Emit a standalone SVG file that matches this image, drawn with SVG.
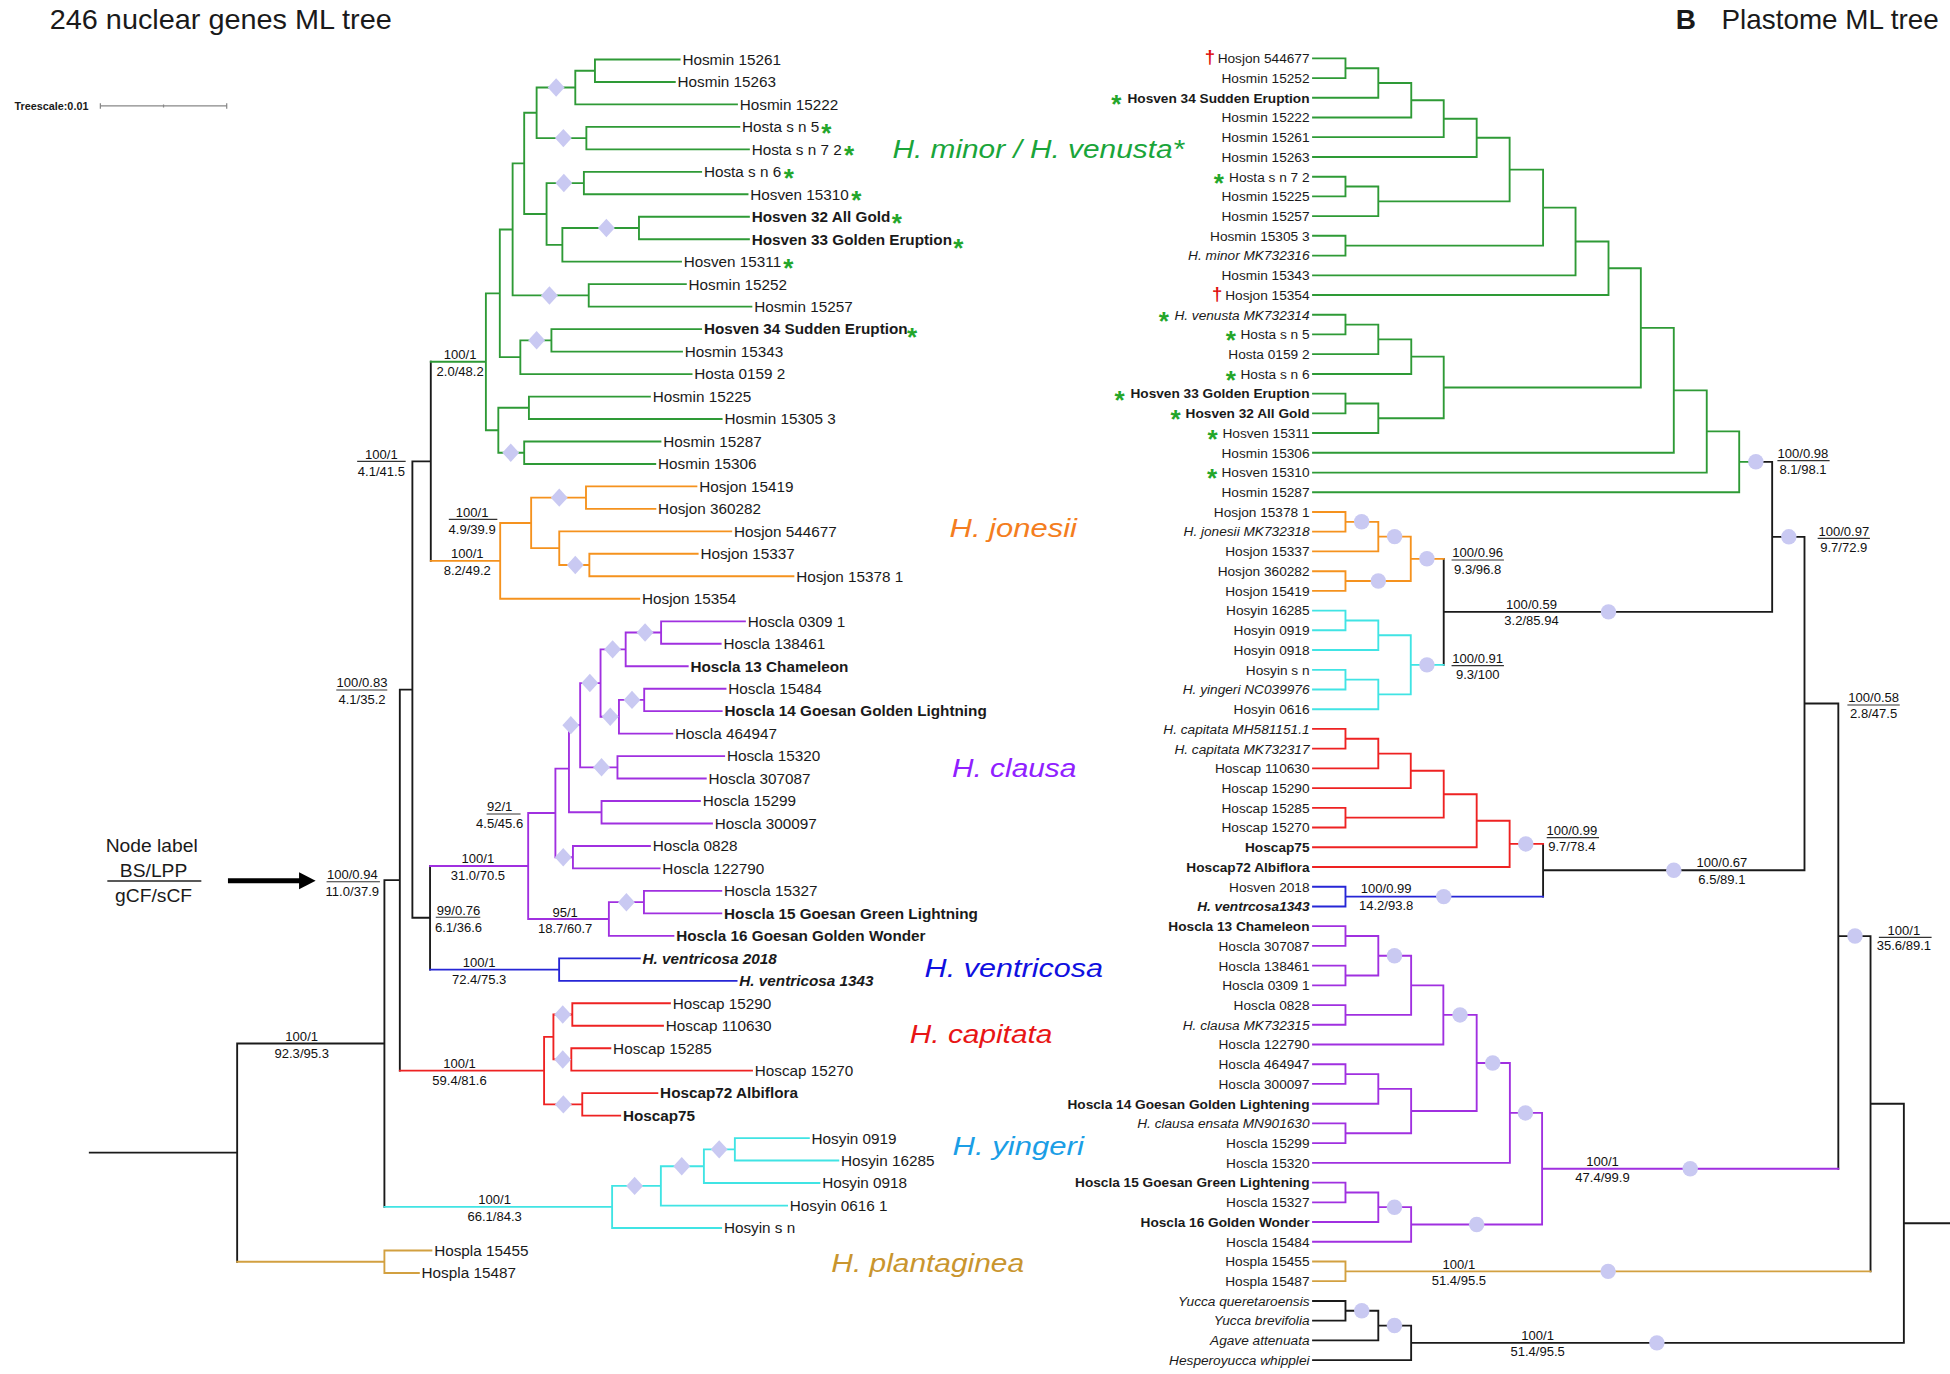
<svg xmlns="http://www.w3.org/2000/svg" xmlns:xlink="http://www.w3.org/1999/xlink" width="1950" height="1374" viewBox="0 0 1950 1374">
<style>
text{font-family:"Liberation Sans",Arial,Helvetica,sans-serif;fill:#1a1a1a}
.lf{font-size:12.3px}
.rf{font-size:11px;text-anchor:end}
.b{font-weight:bold}
.i{font-style:italic}
.nl{font-size:10.5px;text-anchor:middle;fill:#111}
.st{fill:#23a62a;font-weight:bold;font-size:21px;text-anchor:middle}
.dg{fill:#e01010;font-weight:bold;font-size:15px;text-anchor:middle}
.cl{font-size:21px;font-style:italic}
.c{fill:none;stroke-width:1.5;stroke-linecap:square}
.k{stroke:#1a1a1a}.gr{stroke:#2e9a36}.or{stroke:#f5921e}.pu{stroke:#a030e0}.bl{stroke:#2626d6}.rd{stroke:#ee2222}.cy{stroke:#40e4e4}.tn{stroke:#d2a040}
.bar{stroke:#333;stroke-width:0.9}
.dm{fill:#c9c9f2}
</style>
<defs>
<path id="dia" d="M0,-7.4L6.8,0L0,7.4L-6.8,0Z"/>
</defs>
<rect width="1950" height="1374" fill="#fff"/>
<g transform="scale(1.243622)">
<g id="titles">
<text x="40" y="23.6" font-size="22.5" textLength="275" lengthAdjust="spacingAndGlyphs">246 nuclear genes ML tree</text>
<text x="1347.5" y="23.6" font-size="22.5" font-weight="bold">B</text>
<text x="1384.3" y="23.6" font-size="22.5" textLength="174.6" lengthAdjust="spacingAndGlyphs">Plastome ML tree</text>
</g>
<g id="treescale">
<text x="11.7" y="88.3" font-size="8.7" font-weight="bold">Treescale:0.01</text>
<path d="M80.7,85.2H182.3M80.7,83V87.4M131.5,84V86.4M182.3,83V87.4" fill="none" stroke="#888" stroke-width="1"/>
</g>
<g id="legend">
<text x="122" y="685" font-size="15.5" text-anchor="middle">Node label</text>
<text x="123.5" y="705" font-size="15.5" text-anchor="middle">BS/LPP</text>
<path d="M86.3,708.4H161.9" stroke="#222" stroke-width="1.2"/>
<text x="123.5" y="725" font-size="15.5" text-anchor="middle">gCF/sCF</text>
<path d="M183.3,708.2H243" stroke="#000" stroke-width="4"/>
<polygon points="240.5,701.4 253.8,708.2 240.5,715" fill="#000"/>
</g>
<g id="connectors">
<path class="c k" d="M72.2,926.8H190.7M190.7,839.1V1014.55M190.7,839.1H309.1M309.1,707.7V970.5M309.1,707.7H321.5M321.5,554.5V860.9M321.5,554.5H331.6M331.6,370.95V738M331.6,370.95H346.4M346.4,290.9V451M331.6,738H345.8M345.8,696.35V779.65"/>
<path class="c tn" d="M190.7,1014.55H309.1M309.1,1005.5V1023.6M309.1,1005.5H346.9M309.1,1023.6H336.8"/>
<path class="c gr" d="M346.4,290.9H390.7M390.7,235.85V345.98M390.7,235.85H401.9M390.7,345.98H400.7M401.9,184.5V287.2M401.9,184.5H412.2M401.9,287.2H418.4M412.2,131.4V237.55M412.2,131.4H421.5M412.2,237.55H473.4M421.5,90.7V172.05M421.5,90.7H431.5M421.5,172.05H439.5M431.5,70.4V111.05M431.5,70.4H462.6M431.5,111.05H471.5M462.6,56.85V83.9M462.6,56.85H478.4M462.6,83.9H592.6M478.4,47.8V65.9M478.4,47.8H546.5M478.4,65.9H542.6M471.5,102V120.1M471.5,102H594.5M471.5,120.1H602.2M439.5,147.2V196.9M439.5,147.2H469.5M439.5,196.9H452.2M469.5,138.2V156.2M469.5,138.2H563.8M469.5,156.2H601.1M452.2,183.35V210.4M452.2,183.35H513.8M452.2,210.4H547.6M513.8,174.3V192.4M513.8,174.3H602.2M513.8,192.4H602.2M473.4,228.5V246.6M473.4,228.5H551.5M473.4,246.6H604.2M418.4,273.65V300.8M418.4,273.65H443.4M418.4,300.8H556.1M443.4,264.6V282.7M443.4,264.6H563.8M443.4,282.7H548.4M400.7,327.9V364.05M400.7,327.9H425.3M400.7,364.05H421.5M425.3,318.9V336.9M425.3,318.9H522.6M425.3,336.9H580.3M421.5,355V373.1M421.5,355H531.1M421.5,373.1H526.9"/>
<path class="c or" d="M346.4,451H402.2M402.2,420.5V481.5M402.2,420.5H427.1M402.2,481.5H514M427.1,400.15V440.8M427.1,400.15H471.2M427.1,440.8H449.7M471.2,391.1V409.2M471.2,391.1H560M471.2,409.2H527M449.7,427.3V454.35M449.7,427.3H588M449.7,454.35H473.9M473.9,445.3V463.4M473.9,445.3H561M473.9,463.4H638"/>
<path class="c pu" d="M345.8,696.35H424.7M424.7,653.7V739M424.7,653.7H446.6M424.7,739H489.6M446.6,618.1V689.3M446.6,618.1H457.5M446.6,689.3H460.7M457.5,583.1V653.15M457.5,583.1H466.5M457.5,653.15H483.7M466.5,549.25V617M466.5,549.25H482.9M466.5,617H496.5M482.9,522.15V576.35M482.9,522.15H503.1M482.9,576.35H497.7M503.1,508.6V535.7M503.1,508.6H531.6M503.1,535.7H553M531.6,499.6V517.6M531.6,499.6H599M531.6,517.6H579.5M497.7,562.8V589.9M497.7,562.8H518M497.7,589.9H540.6M518,553.8V571.8M518,553.8H583.4M518,571.8H580.3M496.5,608V626M496.5,608H582.3M496.5,626H567.5M483.7,644.1V662.2M483.7,644.1H562.8M483.7,662.2H572.5M460.7,680.3V698.3M460.7,680.3H522.6M460.7,698.3H530.4M489.6,725.45V752.5M489.6,725.45H517.8M489.6,752.5H541.5M517.8,716.4V734.5M517.8,716.4H580M517.8,734.5H580"/>
<path class="c bl" d="M345.8,779.65H449.6M449.6,770.6V788.7M449.6,770.6H514.5M449.6,788.7H592.3"/>
<path class="c rd" d="M321.5,860.9H437.5M437.5,833.8V888.05M437.5,833.8H445M437.5,888.05H468.2M445,815.75V851.9M445,815.75H460.2M445,851.9H459.4M460.2,806.7V824.8M460.2,806.7H538.7M460.2,824.8H533.1M459.4,842.9V860.9M459.4,842.9H490.8M459.4,860.9H604.7M468.2,879V897.1M468.2,879H528.6M468.2,897.1H498.7"/>
<path class="c cy" d="M309.1,970.5H492.2M492.2,953.6V987.4M492.2,953.6H531.4M492.2,987.4H579.9M531.4,937.75V969.4M531.4,937.75H566M531.4,969.4H632.9M566,924.2V951.3M566,924.2H590.9M566,951.3H658.9M590.9,915.2V933.2M590.9,915.2H650.4M590.9,933.2H674.1"/>
<path class="c gr" d="M1055.8,46.9H1081.9M1055.8,62.8H1081.9M1081.9,46.9V62.8M1081.9,54.85H1108.3M1055.8,78.6H1108.3M1108.3,54.85V78.6M1108.3,66.7H1134.8M1055.8,94.5H1134.8M1134.8,66.7V94.5M1134.8,80.6H1160.9M1055.8,110.3H1160.9M1160.9,80.6V110.3M1160.9,95.45H1187.4M1055.8,126.2H1187.4M1187.4,95.45V126.2M1055.8,142.1H1081.9M1055.8,157.9H1081.9M1081.9,142.1V157.9M1081.9,150H1108.3M1055.8,173.8H1108.3M1108.3,150V173.8M1187.4,110.8H1213.9M1108.3,161.9H1213.9M1213.9,110.8V161.9M1055.8,189.6H1081.9M1055.8,205.5H1081.9M1081.9,189.6V205.5M1213.9,136.35H1240.8M1081.9,197.55H1240.8M1240.8,136.35V197.55M1240.8,166.95H1266.9M1055.8,221.4H1266.9M1266.9,166.95V221.4M1266.9,194.2H1293.4M1055.8,237.2H1293.4M1293.4,194.2V237.2M1055.8,253.1H1081.9M1055.8,268.9H1081.9M1081.9,253.1V268.9M1081.9,261H1108.3M1055.8,284.8H1108.3M1108.3,261V284.8M1108.3,272.9H1134.8M1055.8,300.7H1134.8M1134.8,272.9V300.7M1055.8,316.5H1081.9M1055.8,332.4H1081.9M1081.9,316.5V332.4M1081.9,324.45H1108.3M1055.8,348.2H1108.3M1108.3,324.45V348.2M1134.8,286.8H1160.9M1108.3,336.3H1160.9M1160.9,286.8V336.3M1293.4,215.7H1319.4M1160.9,311.55H1319.4M1319.4,215.7V311.55M1319.4,263.6H1345.9M1055.8,364.1H1345.9M1345.9,263.6V364.1M1345.9,313.85H1372.4M1055.8,380H1372.4M1372.4,313.85V380M1372.4,346.9H1398.5M1055.8,395.8H1398.5M1398.5,346.9V395.8M1398.5,371.35H1411.9"/>
<path class="c k" d="M1411.9,371.35H1425M1425,371.35V491.98M1425,431.67H1451M1160.9,491.98H1425M1160.9,449.35V534.6M1451,431.67V699.8M1451,565.7H1478.2M1240.8,678.6V720.95M1240.8,699.8H1451M1478.2,565.7V939.75M1478.2,752.7H1504.1M1504.1,752.7V1022.3M1504.1,887.5H1530.9M1530.9,887.5V1079.8M1530.9,983.65H1568M1055.8,1046.1H1081.9M1055.8,1061.9H1081.9M1081.9,1046.1V1061.9M1081.9,1054H1108.3M1055.8,1077.8H1108.3M1108.3,1054V1077.8M1108.3,1065.9H1134.7M1055.8,1093.7H1134.7M1134.7,1065.9V1093.7M1134.7,1079.8H1530.9"/>
<path class="c or" d="M1055.8,411.7H1081.9M1055.8,427.5H1081.9M1081.9,411.7V427.5M1081.9,419.6H1108.3M1055.8,443.4H1108.3M1108.3,419.6V443.4M1055.8,459.3H1081.9M1055.8,475.1H1081.9M1081.9,459.3V475.1M1108.3,431.5H1134.4M1081.9,467.2H1134.4M1134.4,431.5V467.2M1134.4,449.35H1160.9"/>
<path class="c cy" d="M1055.8,491H1081.9M1055.8,506.8H1081.9M1081.9,491V506.8M1081.9,498.9H1108.3M1055.8,522.7H1108.3M1108.3,498.9V522.7M1055.8,538.6H1081.9M1055.8,554.4H1081.9M1081.9,538.6V554.4M1081.9,546.5H1108.3M1055.8,570.3H1108.3M1108.3,546.5V570.3M1108.3,510.8H1134.4M1108.3,558.4H1134.4M1134.4,510.8V558.4M1134.4,534.6H1160.9"/>
<path class="c rd" d="M1055.8,586.1H1081.9M1055.8,602H1081.9M1081.9,586.1V602M1081.9,594.05H1108.3M1055.8,617.9H1108.3M1108.3,594.05V617.9M1108.3,605.95H1134.4M1055.8,633.7H1134.4M1134.4,605.95V633.7M1055.8,649.6H1081.9M1055.8,665.4H1081.9M1081.9,649.6V665.4M1134.4,619.8H1160.9M1081.9,657.5H1160.9M1160.9,619.8V657.5M1160.9,638.65H1187.4M1055.8,681.3H1187.4M1187.4,638.65V681.3M1187.4,659.98H1213.9M1055.8,697.2H1213.9M1213.9,659.98V697.2M1213.9,678.6H1240.8"/>
<path class="c bl" d="M1055.8,713H1081.9M1055.8,728.9H1081.9M1081.9,713V728.9M1081.9,720.95H1240.8"/>
<path class="c pu" d="M1055.8,744.7H1081.9M1055.8,760.6H1081.9M1081.9,744.7V760.6M1055.8,776.5H1081.9M1055.8,792.3H1081.9M1081.9,776.5V792.3M1081.9,752.65H1108.3M1081.9,784.4H1108.3M1108.3,752.65V784.4M1055.8,808.2H1081.9M1055.8,824H1081.9M1081.9,808.2V824M1108.3,768.5H1134.7M1081.9,816.1H1134.7M1134.7,768.5V816.1M1134.7,792.3H1160.6M1055.8,839.9H1160.6M1160.6,792.3V839.9M1055.8,855.8H1081.9M1055.8,871.6H1081.9M1081.9,855.8V871.6M1081.9,863.7H1108.3M1055.8,887.5H1108.3M1108.3,863.7V887.5M1055.8,903.3H1081.9M1055.8,919.2H1081.9M1081.9,903.3V919.2M1108.3,875.6H1134.7M1081.9,911.25H1134.7M1134.7,875.6V911.25M1160.6,816.1H1187.4M1134.7,893.4H1187.4M1187.4,816.1V893.4M1187.4,854.75H1214.1M1055.8,935.1H1214.1M1214.1,854.75V935.1M1055.8,950.9H1081.9M1055.8,966.8H1081.9M1081.9,950.9V966.8M1081.9,958.85H1108.3M1055.8,982.6H1108.3M1108.3,958.85V982.6M1108.3,970.7H1134.7M1055.8,998.5H1134.7M1134.7,970.7V998.5M1214.1,894.9H1240M1134.7,984.6H1240M1240,894.9V984.6M1240,939.75H1478.2"/>
<path class="c tn" d="M1055.8,1014.4H1081.9M1055.8,1030.2H1081.9M1081.9,1014.4V1030.2M1081.9,1022.3H1504.1"/>
</g>
<g id="support-markers" class="dm">
<use href="#dia" x="447.2" y="70.4"/><use href="#dia" x="453" y="111.05"/><use href="#dia" x="453.4" y="147.2"/><use href="#dia" x="487.6" y="183.35"/><use href="#dia" x="441.8" y="237.55"/><use href="#dia" x="431.5" y="273.65"/><use href="#dia" x="410.7" y="364.05"/><use href="#dia" x="449.7" y="400.15"/><use href="#dia" x="462.6" y="454.35"/><use href="#dia" x="518.7" y="508.6"/><use href="#dia" x="492.6" y="522.15"/><use href="#dia" x="508.2" y="562.8"/><use href="#dia" x="490.7" y="576.35"/><use href="#dia" x="474.3" y="549.25"/><use href="#dia" x="483.7" y="617"/><use href="#dia" x="459" y="583.1"/><use href="#dia" x="452.9" y="689.3"/><use href="#dia" x="503.7" y="725.45"/><use href="#dia" x="452.5" y="815.75"/><use href="#dia" x="452.5" y="851.9"/><use href="#dia" x="453" y="888.05"/><use href="#dia" x="578.3" y="924.2"/><use href="#dia" x="548.2" y="937.75"/><use href="#dia" x="510.3" y="953.6"/>
<circle cx="1411.9" cy="371.35" r="6.2"/><circle cx="1438.4" cy="431.67" r="6.2"/><circle cx="1094.9" cy="419.6" r="6.2"/><circle cx="1121.4" cy="431.5" r="6.2"/><circle cx="1108.3" cy="467.2" r="6.2"/><circle cx="1147.4" cy="449.35" r="6.2"/><circle cx="1147.4" cy="534.6" r="6.2"/><circle cx="1293.4" cy="491.98" r="6.2"/><circle cx="1226.9" cy="678.6" r="6.2"/><circle cx="1160.9" cy="720.95" r="6.2"/><circle cx="1345.9" cy="699.8" r="6.2"/><circle cx="1121.3" cy="768.5" r="6.2"/><circle cx="1174" cy="816.1" r="6.2"/><circle cx="1200.3" cy="854.75" r="6.2"/><circle cx="1226.6" cy="894.9" r="6.2"/><circle cx="1121.3" cy="970.7" r="6.2"/><circle cx="1187.4" cy="984.6" r="6.2"/><circle cx="1359.1" cy="939.75" r="6.2"/><circle cx="1491.6" cy="752.7" r="6.2"/><circle cx="1293.1" cy="1022.3" r="6.2"/><circle cx="1095" cy="1054" r="6.2"/><circle cx="1121.3" cy="1065.9" r="6.2"/><circle cx="1332.3" cy="1079.8" r="6.2"/>
</g>
<g id="node-labels">
<path class="bar" d="M287.2,371H326.2M360.9,417.6H399.9M270.4,554.8H311.4M391.3,654.5H418.6M262.6,709H305.5M350.4,737.6H386.2M1429.2,370.4H1471.2M1461.6,432.9H1503.6M1167.2,450.3H1209.3M1167.2,535.2H1209.3M1485.5,566.9H1527.6M1243.7,673.5H1285.8M1510.8,753.7H1553.2"/>
<g id="nl-L1"><text class="nl" x="370" y="288.9">100/1</text><text class="nl" x="370" y="302.4">2.0/48.2</text></g>
<g id="nl-L2"><text class="nl" x="306.7" y="369">100/1</text><text class="nl" x="306.7" y="382.5">4.1/41.5</text></g>
<g id="nl-L3"><text class="nl" x="379.6" y="415.6">100/1</text><text class="nl" x="379.6" y="429.1">4.9/39.9</text></g>
<g id="nl-L4"><text class="nl" x="375.7" y="449">100/1</text><text class="nl" x="375.7" y="462.5">8.2/49.2</text></g>
<g id="nl-L5"><text class="nl" x="291.1" y="552.8">100/0.83</text><text class="nl" x="291.1" y="566.3">4.1/35.2</text></g>
<g id="nl-L6"><text class="nl" x="401.8" y="652.5">92/1</text><text class="nl" x="401.8" y="666">4.5/45.6</text></g>
<g id="nl-L7"><text class="nl" x="384.3" y="694.3">100/1</text><text class="nl" x="384.3" y="707.8">31.0/70.5</text></g>
<g id="nl-L8"><text class="nl" x="283.3" y="707">100/0.94</text><text class="nl" x="283.3" y="720.5">11.0/37.9</text></g>
<g id="nl-L9"><text class="nl" x="368.7" y="735.6">99/0.76</text><text class="nl" x="368.7" y="749.1">6.1/36.6</text></g>
<g id="nl-L10"><text class="nl" x="454.4" y="737">95/1</text><text class="nl" x="454.4" y="750.5">18.7/60.7</text></g>
<g id="nl-L11"><text class="nl" x="385.3" y="777.6">100/1</text><text class="nl" x="385.3" y="791.1">72.4/75.3</text></g>
<g id="nl-L12"><text class="nl" x="369.5" y="858.9">100/1</text><text class="nl" x="369.5" y="872.4">59.4/81.6</text></g>
<g id="nl-L13"><text class="nl" x="397.7" y="968.5">100/1</text><text class="nl" x="397.7" y="982">66.1/84.3</text></g>
<g id="nl-L14"><text class="nl" x="242.6" y="837.1">100/1</text><text class="nl" x="242.6" y="850.6">92.3/95.3</text></g>
<g id="nl-R1"><text class="nl" x="1449.8" y="368.4">100/0.98</text><text class="nl" x="1449.8" y="381">8.1/98.1</text></g>
<g id="nl-R2"><text class="nl" x="1482.6" y="430.6">100/0.97</text><text class="nl" x="1482.6" y="443.9">9.7/72.9</text></g>
<g id="nl-R3"><text class="nl" x="1188.2" y="448.2">100/0.96</text><text class="nl" x="1188.2" y="461.6">9.3/96.8</text></g>
<g id="nl-R4"><text class="nl" x="1231.5" y="489.5">100/0.59</text><text class="nl" x="1231.5" y="502.3">3.2/85.94</text></g>
<g id="nl-R5"><text class="nl" x="1188.2" y="533.1">100/0.91</text><text class="nl" x="1188.2" y="545.8">9.3/100</text></g>
<g id="nl-R6"><text class="nl" x="1506.6" y="564.6">100/0.58</text><text class="nl" x="1506.6" y="577.3">2.8/47.5</text></g>
<g id="nl-R7"><text class="nl" x="1263.9" y="671.2">100/0.99</text><text class="nl" x="1263.9" y="684.6">9.7/78.4</text></g>
<g id="nl-R8"><text class="nl" x="1384.6" y="697.4">100/0.67</text><text class="nl" x="1384.6" y="710.6">6.5/89.1</text></g>
<g id="nl-R9"><text class="nl" x="1114.6" y="718.1">100/0.99</text><text class="nl" x="1114.6" y="731.5">14.2/93.8</text></g>
<g id="nl-R10"><text class="nl" x="1530.9" y="751.6">100/1</text><text class="nl" x="1530.9" y="764.2">35.6/89.1</text></g>
<g id="nl-R11"><text class="nl" x="1288.6" y="937.3">100/1</text><text class="nl" x="1288.6" y="950.5">47.4/99.9</text></g>
<g id="nl-R12"><text class="nl" x="1173.1" y="1020.2">100/1</text><text class="nl" x="1173.1" y="1033">51.4/95.5</text></g>
<g id="nl-R13"><text class="nl" x="1236.4" y="1077.3">100/1</text><text class="nl" x="1236.4" y="1090.6">51.4/95.5</text></g>
</g>
<g id="clade-labels">
<text class="cl" x="717.6" y="127.3" style="fill:#1aa53a" textLength="234.6" lengthAdjust="spacingAndGlyphs">H. minor / H. venusta*</text>
<text class="cl" x="763.5" y="431.5" style="fill:#f47d20" textLength="102.5" lengthAdjust="spacingAndGlyphs">H. jonesii</text>
<text class="cl" x="765.5" y="625" style="fill:#9020ff" textLength="100" lengthAdjust="spacingAndGlyphs">H. clausa</text>
<text class="cl" x="743.5" y="785.4" style="fill:#1010e0" textLength="143.5" lengthAdjust="spacingAndGlyphs">H. ventricosa</text>
<text class="cl" x="731.6" y="838.9" style="fill:#e81515" textLength="114.6" lengthAdjust="spacingAndGlyphs">H. capitata</text>
<text class="cl" x="766" y="928.7" style="fill:#1b9ee6" textLength="105.5" lengthAdjust="spacingAndGlyphs">H. yingeri</text>
<text class="cl" x="668.5" y="1022.5" style="fill:#c9952e" textLength="155" lengthAdjust="spacingAndGlyphs">H. plantaginea</text>
</g>
<g id="left-leaves">
<g id="L00"><text class="lf" x="548.7" y="52.1">Hosmin 15261</text></g>
<g id="L01"><text class="lf" x="544.8" y="70.2">Hosmin 15263</text></g>
<g id="L02"><text class="lf" x="594.8" y="88.2">Hosmin 15222</text></g>
<g id="L03"><text class="lf" x="596.7" y="106.3">Hosta s n 5</text><text class="st" x="664.5" y="114">*</text></g>
<g id="L04"><text class="lf" x="604.4" y="124.4">Hosta s n 7 2</text><text class="st" x="682.8" y="132.1">*</text></g>
<g id="L05"><text class="lf" x="566" y="142.5">Hosta s n 6</text><text class="st" x="634.4" y="150.2">*</text></g>
<g id="L06"><text class="lf" x="603.3" y="160.5">Hosven 15310</text><text class="st" x="688.5" y="168.2">*</text></g>
<g id="L07"><text class="lf b" x="604.4" y="178.6">Hosven 32 All Gold</text><text class="st" x="721.2" y="186.3">*</text></g>
<g id="L08"><text class="lf b" x="604.4" y="196.7">Hosven 33 Golden Eruption</text><text class="st" x="770.6" y="206.9">*</text></g>
<g id="L09"><text class="lf" x="549.8" y="214.7">Hosven 15311</text><text class="st" x="634" y="222.4">*</text></g>
<g id="L10"><text class="lf" x="553.7" y="232.8">Hosmin 15252</text></g>
<g id="L11"><text class="lf" x="606.4" y="250.9">Hosmin 15257</text></g>
<g id="L12"><text class="lf b" x="566" y="268.9">Hosven 34 Sudden Eruption</text><text class="st" x="733.4" y="278.6">*</text></g>
<g id="L13"><text class="lf" x="550.6" y="287">Hosmin 15343</text></g>
<g id="L14"><text class="lf" x="558.3" y="305.1">Hosta 0159 2</text></g>
<g id="L15"><text class="lf" x="524.8" y="323.2">Hosmin 15225</text></g>
<g id="L16"><text class="lf" x="582.5" y="341.2">Hosmin 15305 3</text></g>
<g id="L17"><text class="lf" x="533.3" y="359.3">Hosmin 15287</text></g>
<g id="L18"><text class="lf" x="529.1" y="377.4">Hosmin 15306</text></g>
<g id="L19"><text class="lf" x="562.2" y="395.4">Hosjon 15419</text></g>
<g id="L20"><text class="lf" x="529.2" y="413.5">Hosjon 360282</text></g>
<g id="L21"><text class="lf" x="590.2" y="431.6">Hosjon 544677</text></g>
<g id="L22"><text class="lf" x="563.2" y="449.6">Hosjon 15337</text></g>
<g id="L23"><text class="lf" x="640.2" y="467.7">Hosjon 15378 1</text></g>
<g id="L24"><text class="lf" x="516.2" y="485.8">Hosjon 15354</text></g>
<g id="L25"><text class="lf" x="601.2" y="503.9">Hoscla 0309 1</text></g>
<g id="L26"><text class="lf" x="581.7" y="521.9">Hoscla 138461</text></g>
<g id="L27"><text class="lf b" x="555.2" y="540">Hoscla 13 Chameleon</text></g>
<g id="L28"><text class="lf" x="585.6" y="558.1">Hoscla 15484</text></g>
<g id="L29"><text class="lf b" x="582.5" y="576.1">Hoscla 14 Goesan Golden Lightning</text></g>
<g id="L30"><text class="lf" x="542.8" y="594.2">Hoscla 464947</text></g>
<g id="L31"><text class="lf" x="584.5" y="612.3">Hoscla 15320</text></g>
<g id="L32"><text class="lf" x="569.7" y="630.3">Hoscla 307087</text></g>
<g id="L33"><text class="lf" x="565" y="648.4">Hoscla 15299</text></g>
<g id="L34"><text class="lf" x="574.7" y="666.5">Hoscla 300097</text></g>
<g id="L35"><text class="lf" x="524.8" y="684.6">Hoscla 0828</text></g>
<g id="L36"><text class="lf" x="532.6" y="702.6">Hoscla 122790</text></g>
<g id="L37"><text class="lf" x="582.2" y="720.7">Hoscla 15327</text></g>
<g id="L38"><text class="lf b" x="582.2" y="738.8">Hoscla 15 Goesan Green Lightning</text></g>
<g id="L39"><text class="lf b" x="543.7" y="756.8">Hoscla 16 Goesan Golden Wonder</text></g>
<g id="L40"><text class="lf b i" x="516.7" y="774.9">H. ventricosa 2018</text></g>
<g id="L41"><text class="lf b i" x="594.5" y="793">H. ventricosa 1343</text></g>
<g id="L42"><text class="lf" x="540.9" y="811">Hoscap 15290</text></g>
<g id="L43"><text class="lf" x="535.3" y="829.1">Hoscap 110630</text></g>
<g id="L44"><text class="lf" x="493" y="847.2">Hoscap 15285</text></g>
<g id="L45"><text class="lf" x="606.9" y="865.2">Hoscap 15270</text></g>
<g id="L46"><text class="lf b" x="530.8" y="883.3">Hoscap72 Albiflora</text></g>
<g id="L47"><text class="lf b" x="500.9" y="901.4">Hoscap75</text></g>
<g id="L48"><text class="lf" x="652.6" y="919.5">Hosyin 0919</text></g>
<g id="L49"><text class="lf" x="676.3" y="937.5">Hosyin 16285</text></g>
<g id="L50"><text class="lf" x="661.1" y="955.6">Hosyin 0918</text></g>
<g id="L51"><text class="lf" x="635.1" y="973.7">Hosyin 0616 1</text></g>
<g id="L52"><text class="lf" x="582.1" y="991.7">Hosyin s n</text></g>
<g id="L53"><text class="lf" x="349.1" y="1009.8">Hospla 15455</text></g>
<g id="L54"><text class="lf" x="339" y="1027.9">Hospla 15487</text></g>
</g>
<g id="right-leaves">
<g id="R00"><text class="dg" x="972.9" y="50.8">†</text><text class="rf" x="1053" y="50.8">Hosjon 544677</text></g>
<g id="R01"><text class="rf" x="1053" y="66.7">Hosmin 15252</text></g>
<g id="R02"><text class="st" x="897.6" y="90.6">*</text><text class="rf b" x="1053" y="82.5">Hosven 34 Sudden Eruption</text></g>
<g id="R03"><text class="rf" x="1053" y="98.4">Hosmin 15222</text></g>
<g id="R04"><text class="rf" x="1053" y="114.2">Hosmin 15261</text></g>
<g id="R05"><text class="rf" x="1053" y="130.1">Hosmin 15263</text></g>
<g id="R06"><text class="st" x="980.1" y="154.1">*</text><text class="rf" x="1053" y="146">Hosta s n 7 2</text></g>
<g id="R07"><text class="rf" x="1053" y="161.8">Hosmin 15225</text></g>
<g id="R08"><text class="rf" x="1053" y="177.7">Hosmin 15257</text></g>
<g id="R09"><text class="rf" x="1053" y="193.5">Hosmin 15305 3</text></g>
<g id="R10"><text class="rf i" x="1053" y="209.4">H. minor MK732316</text></g>
<g id="R11"><text class="rf" x="1053" y="225.3">Hosmin 15343</text></g>
<g id="R12"><text class="dg" x="978.8" y="241.1">†</text><text class="rf" x="1053" y="241.1">Hosjon 15354</text></g>
<g id="R13"><text class="st" x="935.9" y="265.1">*</text><text class="rf i" x="1053" y="257">H. venusta MK732314</text></g>
<g id="R14"><text class="st" x="989.8" y="280.9">*</text><text class="rf" x="1053" y="272.8">Hosta s n 5</text></g>
<g id="R15"><text class="rf" x="1053" y="288.7">Hosta 0159 2</text></g>
<g id="R16"><text class="st" x="989.8" y="312.7">*</text><text class="rf" x="1053" y="304.6">Hosta s n 6</text></g>
<g id="R17"><text class="st" x="900.3" y="328.5">*</text><text class="rf b" x="1053" y="320.4">Hosven 33 Golden Eruption</text></g>
<g id="R18"><text class="st" x="945.2" y="344.4">*</text><text class="rf b" x="1053" y="336.3">Hosven 32 All Gold</text></g>
<g id="R19"><text class="st" x="975" y="360.2">*</text><text class="rf" x="1053" y="352.1">Hosven 15311</text></g>
<g id="R20"><text class="rf" x="1053" y="368">Hosmin 15306</text></g>
<g id="R21"><text class="st" x="974.6" y="392">*</text><text class="rf" x="1053" y="383.9">Hosven 15310</text></g>
<g id="R22"><text class="rf" x="1053" y="399.7">Hosmin 15287</text></g>
<g id="R23"><text class="rf" x="1053" y="415.6">Hosjon 15378 1</text></g>
<g id="R24"><text class="rf i" x="1053" y="431.4">H. jonesii MK732318</text></g>
<g id="R25"><text class="rf" x="1053" y="447.3">Hosjon 15337</text></g>
<g id="R26"><text class="rf" x="1053" y="463.2">Hosjon 360282</text></g>
<g id="R27"><text class="rf" x="1053" y="479">Hosjon 15419</text></g>
<g id="R28"><text class="rf" x="1053" y="494.9">Hosyin 16285</text></g>
<g id="R29"><text class="rf" x="1053" y="510.7">Hosyin 0919</text></g>
<g id="R30"><text class="rf" x="1053" y="526.6">Hosyin 0918</text></g>
<g id="R31"><text class="rf" x="1053" y="542.5">Hosyin s n</text></g>
<g id="R32"><text class="rf i" x="1053" y="558.3">H. yingeri NC039976</text></g>
<g id="R33"><text class="rf" x="1053" y="574.2">Hosyin 0616</text></g>
<g id="R34"><text class="rf i" x="1053" y="590">H. capitata MH581151.1</text></g>
<g id="R35"><text class="rf i" x="1053" y="605.9">H. capitata MK732317</text></g>
<g id="R36"><text class="rf" x="1053" y="621.8">Hoscap 110630</text></g>
<g id="R37"><text class="rf" x="1053" y="637.6">Hoscap 15290</text></g>
<g id="R38"><text class="rf" x="1053" y="653.5">Hoscap 15285</text></g>
<g id="R39"><text class="rf" x="1053" y="669.3">Hoscap 15270</text></g>
<g id="R40"><text class="rf b" x="1053" y="685.2">Hoscap75</text></g>
<g id="R41"><text class="rf b" x="1053" y="701.1">Hoscap72 Albiflora</text></g>
<g id="R42"><text class="rf" x="1053" y="716.9">Hosven 2018</text></g>
<g id="R43"><text class="rf b i" x="1053" y="732.8">H. ventrcosa1343</text></g>
<g id="R44"><text class="rf b" x="1053" y="748.6">Hoscla 13 Chameleon</text></g>
<g id="R45"><text class="rf" x="1053" y="764.5">Hoscla 307087</text></g>
<g id="R46"><text class="rf" x="1053" y="780.4">Hoscla 138461</text></g>
<g id="R47"><text class="rf" x="1053" y="796.2">Hoscla 0309 1</text></g>
<g id="R48"><text class="rf" x="1053" y="812.1">Hoscla 0828</text></g>
<g id="R49"><text class="rf i" x="1053" y="827.9">H. clausa MK732315</text></g>
<g id="R50"><text class="rf" x="1053" y="843.8">Hoscla 122790</text></g>
<g id="R51"><text class="rf" x="1053" y="859.7">Hoscla 464947</text></g>
<g id="R52"><text class="rf" x="1053" y="875.5">Hoscla 300097</text></g>
<g id="R53"><text class="rf b" x="1053" y="891.4">Hoscla 14 Goesan Golden Lightening</text></g>
<g id="R54"><text class="rf i" x="1053" y="907.2">H. clausa ensata MN901630</text></g>
<g id="R55"><text class="rf" x="1053" y="923.1">Hoscla 15299</text></g>
<g id="R56"><text class="rf" x="1053" y="939">Hoscla 15320</text></g>
<g id="R57"><text class="rf b" x="1053" y="954.8">Hoscla 15 Goesan Green Lightening</text></g>
<g id="R58"><text class="rf" x="1053" y="970.7">Hoscla 15327</text></g>
<g id="R59"><text class="rf b" x="1053" y="986.5">Hoscla 16 Golden Wonder</text></g>
<g id="R60"><text class="rf" x="1053" y="1002.4">Hoscla 15484</text></g>
<g id="R61"><text class="rf" x="1053" y="1018.3">Hospla 15455</text></g>
<g id="R62"><text class="rf" x="1053" y="1034.1">Hospla 15487</text></g>
<g id="R63"><text class="rf i" x="1053" y="1050">Yucca queretaroensis</text></g>
<g id="R64"><text class="rf i" x="1053" y="1065.8">Yucca brevifolia</text></g>
<g id="R65"><text class="rf i" x="1053" y="1081.7">Agave attenuata</text></g>
<g id="R66"><text class="rf i" x="1053" y="1097.6">Hesperoyucca whipplei</text></g>
</g>
</g>
</svg>
